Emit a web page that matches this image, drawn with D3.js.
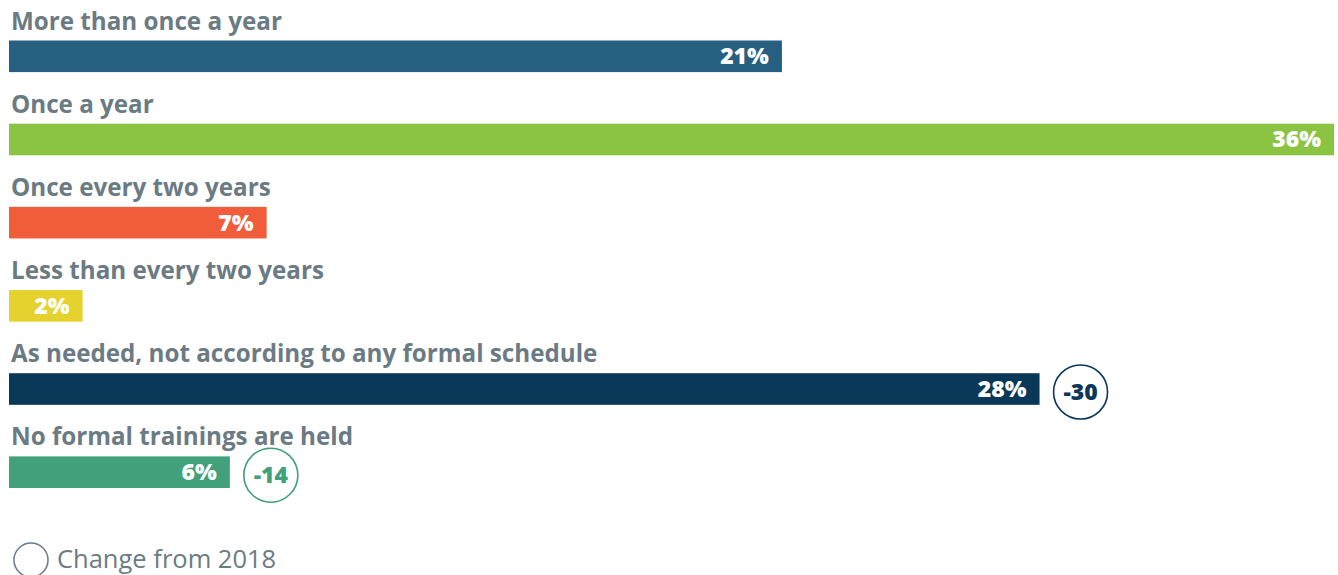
<!DOCTYPE html>
<html>
<head>
<meta charset="utf-8">
<script src="https://cdn.jsdelivr.net/npm/d3@7"></script>
<style>
  html, body { margin: 0; padding: 0; background: #ffffff; }
  svg { display: block; }
</style>
</head>
<body>
<div id="chart"></div>
<script>
// Training frequency shares, with change from 2018 where reported
const categories = [
  "More than once a year",
  "Once a year",
  "Once every two years",
  "Less than every two years",
  "As needed, not according to any formal schedule",
  "No formal trainings are held"
];
const values = [21, 36, 7, 2, 28, 6];
const changes = [null, null, null, null, -30, -14];
const colors = ["#265f80", "#8bc442", "#f15c3b", "#e5d22e", "#0a3858", "#42a07a"];
const legendLabel = "Change from 2018";

const width = 1338, height = 575;
const labelColor = "#6b7b83";

const svg = d3.select("#chart").append("svg")
  .attr("width", width)
  .attr("height", height);

const x = d3.scaleLinear().domain([0, 36]).range([9, 1334]);
const y = d3.scaleBand().domain(categories).range([40.5, 488]).paddingInner(0.62).paddingOuter(0).align(0);

const barH = y.bandwidth();

const rows = svg.selectAll("g.row")
  .data(categories.map((c, i) => ({ cat: c, v: values[i], ch: changes[i], col: colors[i] })))
  .join("g")
  .attr("class", "row");

// category label above each bar
rows.append("text")
  .attr("x", 11)
  .attr("y", d => y(d.cat) - 11)
  .attr("fill", labelColor)
  .attr("font-family", "'Open Sans', Lato, sans-serif")
  .attr("font-weight", 700)
  .attr("font-size", 24.2)
  .text(d => d.cat);

rows.append("rect")
  .attr("x", x(0))
  .attr("y", d => y(d.cat))
  .attr("width", d => x(d.v) - x(0))
  .attr("height", barH)
  .attr("fill", d => d.col);

// value label inside bar end
rows.append("text")
  .attr("x", d => x(d.v) - 13)
  .attr("y", d => y(d.cat) + barH / 2 + 8)
  .attr("text-anchor", "end")
  .attr("fill", "#ffffff")
  .attr("font-family", "'Open Sans', Lato, sans-serif")
  .attr("font-weight", 800)
  .attr("font-size", 23)
  .text(d => d.v + "%");

// change badges
const badges = rows.filter(d => d.ch !== null);
badges.append("circle")
  .attr("cx", d => x(d.v) + 41)
  .attr("cy", d => y(d.cat) + barH / 2 + 3)
  .attr("r", 27)
  .attr("fill", "none")
  .attr("stroke", d => d.col)
  .attr("stroke-width", 1.6);
badges.append("text")
  .attr("x", d => x(d.v) + 41)
  .attr("y", d => y(d.cat) + barH / 2 + 3 + 8)
  .attr("text-anchor", "middle")
  .attr("fill", d => d.col)
  .attr("font-family", "'Open Sans', Lato, sans-serif")
  .attr("font-weight", 800)
  .attr("font-size", 23)
  .text(d => d.ch);

// legend
svg.append("circle")
  .attr("cx", 31).attr("cy", 560).attr("r", 17)
  .attr("fill", "none").attr("stroke", labelColor).attr("stroke-width", 1.5);
svg.append("text")
  .attr("x", 57).attr("y", 567.5)
  .attr("fill", labelColor)
  .attr("font-family", "'Open Sans', Lato, sans-serif")
  .attr("font-size", 25.5)
  .text(legendLabel);
</script>
</body>
</html>
